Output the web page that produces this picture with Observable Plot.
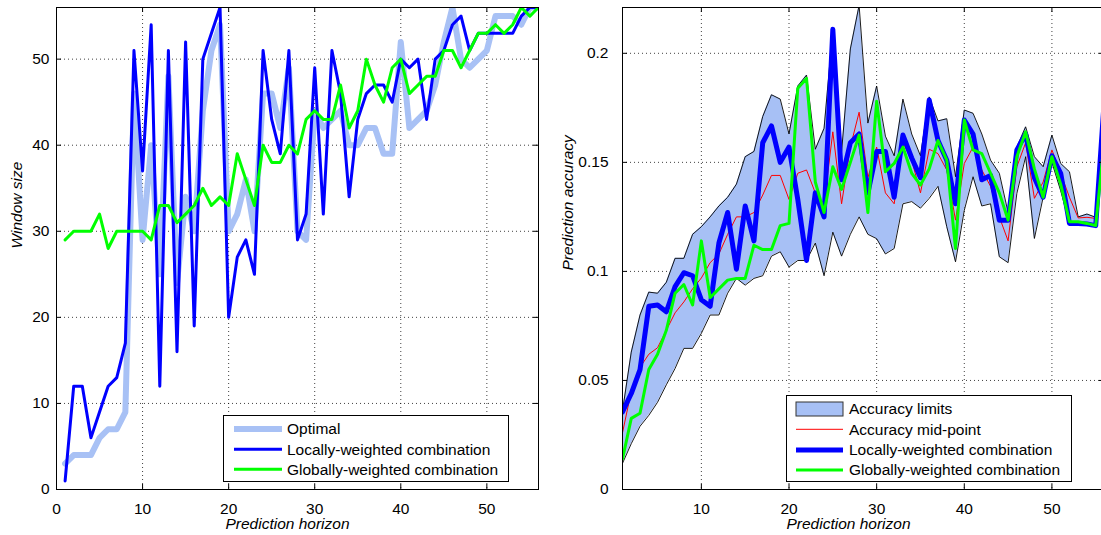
<!DOCTYPE html>
<html><head><meta charset="utf-8">
<script src="https://cdn.jsdelivr.net/npm/d3@7"></script>
<script src="https://cdn.jsdelivr.net/npm/@observablehq/plot@0.6"></script>
<style>
html,body{margin:0;padding:0;background:#fff;overflow:hidden;}
#wrap{position:relative;width:1101px;height:535px;overflow:hidden;background:#fff;}
#left{position:absolute;left:0;top:0;width:545px;height:535px;}
#right{position:absolute;left:560px;top:0;width:545px;height:535px;}
#legend{position:absolute;left:0;top:0;pointer-events:none;}
#wrap svg{max-width:none !important;}
</style></head>
<body><div id="wrap"><div id="left"></div><div id="right"></div><svg id="legend" width="1101" height="535"></svg></div>
<script>
// ---------- data ----------
const horizon = d3.range(1, 57);

// left panel: window size
const leftOptimal = [3,4,4,4,6,7,7,9,46,29, 40,25,48,24,34,30,44,51,54,30, 32,36,30,46,46,42,49,30,29,44,
  42,43,44,40,40,42,42,39,39,52, 42,43,44,47,52,56,50,49,50,51, 55,55,55,54,56,56];
const leftLocal = [1,12,12,6,9,12,13,17,51,37, 54,12,51,16,52,19,50,53,56,20, 27,29,25,51,43,39,51,29,32,49,
  32,51,46,34,43,46,47,47,45,50, 49,50,43,50,51,54,55,51,53,53, 53,53,53,55,56,56];
const leftGlobal = [29,30,30,30,32,28,30,30,30,30, 29,33,33,31,32,33,35,33,34,33, 39,36,33,40,38,38,40,39,43,44,
  43,43,47,42,44,50,47,45,49,50, 46,47,48,48,51,51,49,51,53,53, 54,53,54,56,55,56];

// right panel: prediction accuracy
const accUpper = [0.036,0.063,0.080,0.0905,0.090,0.095,0.106,0.106,0.117,0.1205,
  0.125,0.130,0.134,0.140,0.1526,0.155,0.171,0.181,0.179,0.163,
  0.185,0.190,0.156,0.1656,0.211,0.155,0.202,0.222,0.168,0.185,
  0.162,0.153,0.179,0.163,0.153,0.180,0.169,0.170,0.1434,0.174,
  0.1725,0.163,0.151,0.145,0.127,0.157,0.1663,0.1526,0.148,0.1625,
  0.1495,0.1457,0.125,0.1263,0.1248,0.182];
const accLower = [0.012,0.021,0.029,0.034,0.040,0.048,0.0555,0.0647,0.0647,0.0716,
  0.080,0.080,0.090,0.0968,0.0937,0.0968,0.098,0.107,0.109,0.102,
  0.105,0.105,0.113,0.098,0.118,0.107,0.117,0.125,0.117,0.115,
  0.108,0.1105,0.131,0.132,0.129,0.1335,0.139,0.1205,0.1044,0.128,
  0.1434,0.130,0.131,0.1067,0.104,0.1358,0.1526,0.1151,0.134,0.150,
  0.137,0.122,0.122,0.122,0.121,0.158];
const accMid = [0.026,0.045,0.056,0.062,0.065,0.073,0.081,0.086,0.092,0.097,
  0.104,0.108,0.117,0.125,0.125,0.127,0.135,0.144,0.144,0.133,
  0.145,0.1465,0.136,0.131,0.164,0.131,0.157,0.173,0.143,0.157,
  0.136,0.131,0.159,0.151,0.136,0.156,0.154,0.1465,0.1235,0.1495,
  0.157,0.1465,0.139,0.125,0.114,0.148,0.159,0.1335,0.141,0.1557,
  0.145,0.134,0.1245,0.1248,0.1243,0.170];
const accLocal = [0.0356,0.044,0.055,0.084,0.0846,0.0815,0.093,0.0994,0.098,0.087,
  0.084,0.113,0.127,0.101,0.130,0.114,0.159,0.1667,0.150,0.157,
  0.133,0.105,0.136,0.125,0.211,0.142,0.159,0.163,0.136,0.155,
  0.155,0.134,0.1625,0.152,0.143,0.1786,0.160,0.151,0.131,0.1694,
  0.163,0.142,0.144,0.1235,0.1235,0.1557,0.163,0.143,0.134,0.153,
  0.145,0.122,0.122,0.1217,0.121,0.180];
const accGlobal = [0.014,0.0326,0.035,0.055,0.062,0.073,0.090,0.094,0.0846,0.114,
  0.088,0.092,0.096,0.0968,0.0968,0.112,0.110,0.110,0.121,0.122,
  0.184,0.1885,0.141,0.127,0.148,0.1376,0.150,0.1625,0.127,0.178,
  0.1457,0.1495,0.157,0.145,0.1396,0.147,0.160,0.151,0.1105,0.1694,
  0.1557,0.154,0.145,0.136,0.1235,0.1526,0.164,0.147,0.134,0.1526,
  0.140,0.1228,0.1228,0.122,0.121,0.161];

// ticks & labels
const leftXTicks = [0,10,20,30,40,50];
const leftYTicks = [0,10,20,30,40,50];
const rightXTicks = [10,20,30,40,50];
const rightYTicks = [0,0.05,0.1,0.15,0.2];
const xTitle = "Prediction horizon";
const leftYTitle = "Window size";
const rightYTitle = "Prediction accuracy";
const leftLegend = ["Optimal", "Locally-weighted combination", "Globally-weighted combination"];
const rightLegend = ["Accuracy limits", "Accuracy mid-point", "Locally-weighted combination", "Globally-weighted combination"];

// ---------- styles ----------
const FONT = "'Liberation Sans', Arial, Helvetica, sans-serif";
const FS = 15.5;
const C_OPT = "#a8c1f5", C_BAND = "#a7c0f5", C_BLUE = "#0000ff", C_GREEN = "#00ff00", C_RED = "#ff0000";
const gridStyle = {stroke: "#000", strokeOpacity: 0.75, strokeDasharray: "1,3", strokeWidth: 1};
const plotStyle = {fontFamily: FONT, fontSize: FS + "px", color: "#000", background: "transparent", overflow: "visible", maxWidth: "none"};

function inwardTicks(xt, yt, xd, yd, pxW, pxH) {
  const lx = (xd[1] - xd[0]) * 5 / pxW, ly = (yd[1] - yd[0]) * 5 / pxH;
  return [
    Plot.ruleX(xt, {x: d => d, y1: yd[0], y2: yd[0] + ly, stroke: "#000"}),
    Plot.ruleX(xt, {x: d => d, y1: yd[1] - ly, y2: yd[1], stroke: "#000"}),
    Plot.ruleY(yt, {y: d => d, x1: xd[0], x2: xd[0] + lx, stroke: "#000"}),
    Plot.ruleY(yt, {y: d => d, x1: xd[1] - lx, x2: xd[1], stroke: "#000"})
  ];
}

// ---------- left plot ----------
const lxd = [0, 56], lyd = [0, 56];
const left = Plot.plot({
  width: 545, height: 535, marginLeft: 56, marginRight: 7, marginTop: 7, marginBottom: 46,
  style: plotStyle,
  x: {domain: lxd}, y: {domain: lyd},
  marks: [
    Plot.gridX({ticks: leftXTicks, ...gridStyle}),
    Plot.gridY({ticks: leftYTicks, ...gridStyle}),
    Plot.line(horizon, {x: horizon, y: leftOptimal, stroke: C_OPT, strokeWidth: 6, clip: true}),
    Plot.line(horizon, {x: horizon, y: leftLocal, stroke: C_BLUE, strokeWidth: 3, clip: true}),
    Plot.line(horizon, {x: horizon, y: leftGlobal, stroke: C_GREEN, strokeWidth: 3, clip: true}),
    ...inwardTicks(leftXTicks, leftYTicks, lxd, lyd, 482, 482),
    Plot.frame({stroke: "#000", strokeWidth: 1}),
    Plot.axisX({ticks: leftXTicks, tickSize: 0, tickPadding: 13, label: null}),
    Plot.axisY({ticks: leftYTicks, tickSize: 0, tickPadding: 7, label: null}),
    Plot.text([xTitle], {text: d => d, frameAnchor: "bottom", dy: 39, dx: -10, fontStyle: "italic"}),
    Plot.text([leftYTitle], {text: d => d, frameAnchor: "left", rotate: -90, dx: -39, fontStyle: "italic"})
  ]
});
document.getElementById("left").appendChild(left);

// ---------- right plot ----------
const rxd = [1, 56], ryd = [0, 0.221];
const right = Plot.plot({
  width: 545, height: 535, marginLeft: 62, marginRight: 1, marginTop: 7, marginBottom: 46,
  style: plotStyle,
  x: {domain: rxd}, y: {domain: ryd},
  marks: [
    Plot.gridX({ticks: rightXTicks, ...gridStyle}),
    Plot.gridY({ticks: rightYTicks, ...gridStyle}),
    Plot.areaY(horizon, {x: horizon, y1: accLower, y2: accUpper, fill: C_BAND, clip: true}),
    Plot.line(horizon, {x: horizon, y: accUpper, stroke: "#000", strokeWidth: 0.9, clip: true}),
    Plot.line(horizon, {x: horizon, y: accLower, stroke: "#000", strokeWidth: 0.9, clip: true}),
    Plot.line(horizon, {x: horizon, y: accMid, stroke: C_RED, strokeWidth: 1, clip: true}),
    Plot.line(horizon, {x: horizon, y: accLocal, stroke: C_BLUE, strokeWidth: 5, clip: true}),
    Plot.line(horizon, {x: horizon, y: accGlobal, stroke: C_GREEN, strokeWidth: 3, clip: true}),
    ...inwardTicks(rightXTicks, rightYTicks, rxd, ryd, 482, 482),
    Plot.frame({stroke: "#000", strokeWidth: 1}),
    Plot.axisX({ticks: rightXTicks, tickSize: 0, tickPadding: 13, label: null}),
    Plot.axisY({ticks: rightYTicks, tickSize: 0, tickPadding: 14, label: null, tickFormat: d => String(d)}),
    Plot.text([xTitle], {text: d => d, frameAnchor: "bottom", dy: 39, dx: -15, fontStyle: "italic"}),
    Plot.text([rightYTitle], {text: d => d, frameAnchor: "left", rotate: -90, dx: -54, dy: 22, fontStyle: "italic"})
  ]
});
document.getElementById("right").appendChild(right);

// ---------- legends ----------
const lg = d3.select("#legend").style("font-family", FONT).style("font-size", FS + "px");
function legendBox(x, y, w, h) {
  lg.append("rect").attr("x", x + 0.5).attr("y", y + 0.5).attr("width", w).attr("height", h)
    .attr("fill", "#fff").attr("stroke", "#000").attr("stroke-width", 1);
}
function legendText(x, y, t) {
  lg.append("text").attr("x", x).attr("y", y).attr("dy", "0.35em").attr("fill", "#000").text(t);
}
function legendLine(x1, x2, y, color, w) {
  lg.append("line").attr("x1", x1).attr("x2", x2).attr("y1", y).attr("y2", y)
    .attr("stroke", color).attr("stroke-width", w);
}
// left legend
legendBox(223, 415, 285, 66);
const lRows = [429, 449.3, 469.3];
const lStyles = [[C_OPT, 6], [C_BLUE, 3], [C_GREEN, 3]];
leftLegend.forEach((t, i) => {
  legendLine(234, 282, lRows[i], lStyles[i][0], lStyles[i][1]);
  legendText(287, lRows[i], t);
});
// right legend
legendBox(786, 395, 285, 86);
const rRows = [409, 429.3, 450, 470];
lg.append("rect").attr("x", 796).attr("y", 402).attr("width", 47).attr("height", 14)
  .attr("fill", C_BAND).attr("stroke", "#333").attr("stroke-width", 1);
const rStyles = [null, [C_RED, 1], [C_BLUE, 5], [C_GREEN, 3]];
rightLegend.forEach((t, i) => {
  if (rStyles[i]) legendLine(796, 843, rRows[i], rStyles[i][0], rStyles[i][1]);
  legendText(849, rRows[i], t);
});
</script></body></html>
